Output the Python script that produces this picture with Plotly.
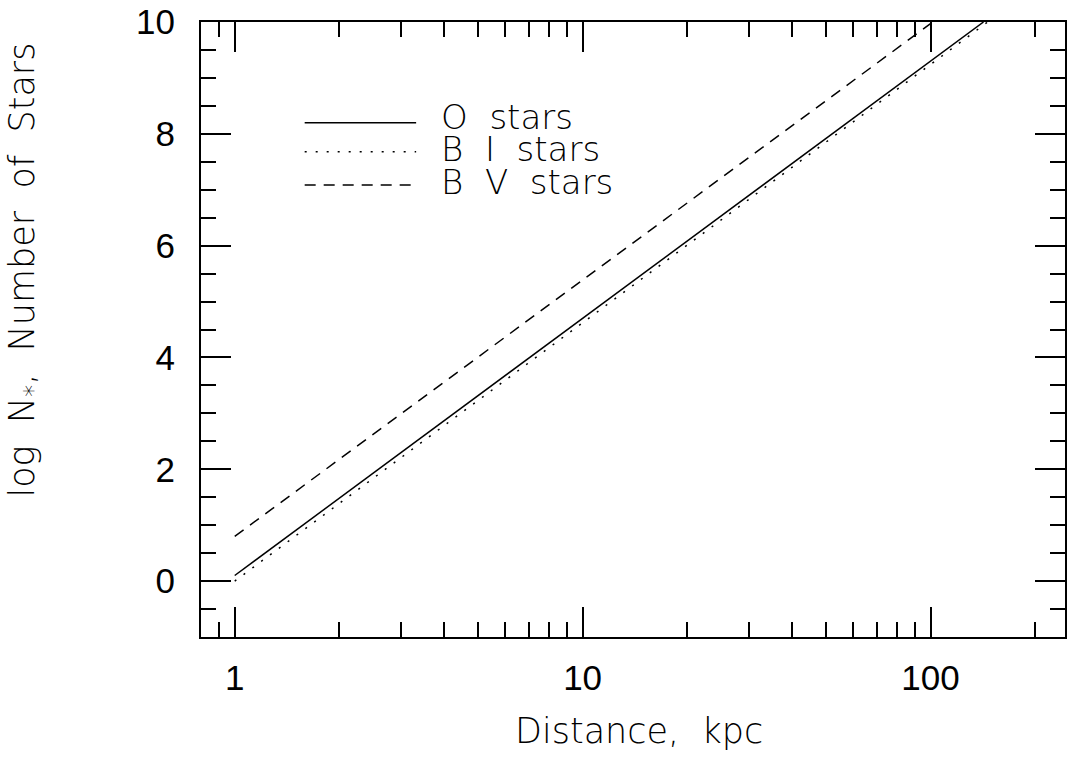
import numpy as np
import plotly.graph_objects as go

# Data
o_dist = [1.0, 142.0]
o_logn = [0.10, 10.0]
bi_dist = [1.0, 146.0]
bi_logn = [0.0, 10.0]
bv_dist = [1.0, 100.0]
bv_logn = [0.80, 9.97]

series_names = ["O stars", "B I stars", "B V stars"]
x_title = "Distance, kpc"
y_title = "log N<sub>*</sub>, Number of Stars"
x_ticks = [1, 10, 100]
y_ticks = [0, 2, 4, 6, 8, 10]


def wide(s):
    # stroke-font style: wider word spacing
    return s.replace(" ", " \u00a0")


STROKE_FAMILY = "DejaVu Sans, Roboto, sans-serif"
TITLE_FONT = dict(family=STROKE_FAMILY, size=35, color="black", weight=200)
TICK_FONT = dict(family="Liberation Sans, Arial, sans-serif", size=35, color="black")

dashes = ["solid", "2px,9px", "11px,8px"]
data = [(o_dist, o_logn), (bi_dist, bi_logn), (bv_dist, bv_logn)]

fig = go.Figure()
for (xs, ys), name, d in zip(data, series_names, dashes):
    fig.add_trace(go.Scatter(x=xs, y=ys, mode="lines", name=name,
                             line=dict(color="black", width=1.5, dash=d),
                             showlegend=False))

# manual legend (line samples + labels)
leg_line_y = [0.836, 0.789, 0.735]
leg_text_y = [0.846, 0.793, 0.740]
for i, (name, d) in enumerate(zip(series_names, dashes)):
    fig.add_shape(type="line", xref="paper", yref="paper",
                  x0=0.120, x1=0.249, y0=leg_line_y[i], y1=leg_line_y[i],
                  line=dict(color="black", width=1.5, dash=d))
    fig.add_annotation(xref="paper", yref="paper", x=0.276, y=leg_text_y[i],
                       text=wide(name), showarrow=False, xanchor="left", yanchor="middle",
                       font=dict(family=STROKE_FAMILY, size=34, color="black", weight=200))

fig.add_annotation(xref="paper", yref="paper", x=0.507, y=-0.153, text=wide(x_title),
                   showarrow=False, xanchor="center", yanchor="middle", font=TITLE_FONT)
fig.add_annotation(xref="paper", yref="paper", x=-0.204, y=0.597,
                   text=wide(y_title), textangle=-90,
                   showarrow=False, xanchor="center", yanchor="middle", font=TITLE_FONT)

fig.update_xaxes(type="log", range=[np.log10(0.8), 2.3865],
                 tickvals=x_ticks, ticktext=[str(v) for v in x_ticks],
                 ticks="inside", ticklen=30, tickwidth=1.5, tickcolor="black",
                 minor=dict(ticks="inside", ticklen=15, tickwidth=1.5, tickcolor="black",
                            dtick="D1", showgrid=False),
                 showline=True, linecolor="black", linewidth=2, mirror="allticks",
                 showgrid=False, zeroline=False, tickfont=TICK_FONT, ticklabelstandoff=9)
fig.update_yaxes(range=[-1, 10], tickvals=y_ticks,
                 ticks="inside", ticklen=30, tickwidth=1.5, tickcolor="black",
                 minor=dict(ticks="inside", ticklen=15, tickwidth=1.5, tickcolor="black",
                            dtick=0.5, tick0=0, showgrid=False),
                 showline=True, linecolor="black", linewidth=2, mirror="allticks",
                 showgrid=False, zeroline=False, tickfont=TICK_FONT, ticklabelstandoff=17)

fig.update_layout(width=1067, height=762, paper_bgcolor="white", plot_bgcolor="white",
                  margin=dict(l=201, r=0, t=22, b=125), showlegend=False)

fig.write_html("out.html")
